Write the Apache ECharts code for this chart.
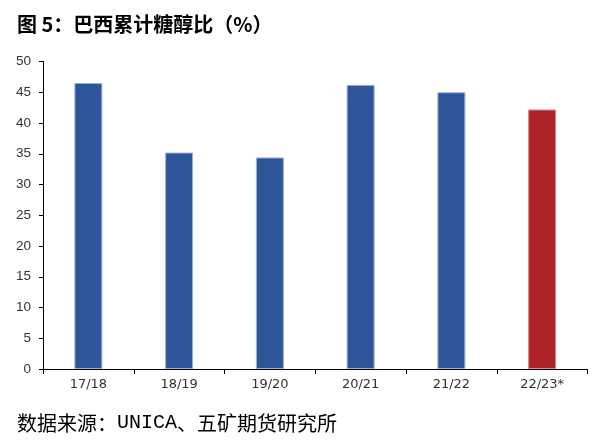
<!DOCTYPE html>
<html>
<head>
<meta charset="utf-8">
<script src="https://cdn.jsdelivr.net/npm/echarts@6/dist/echarts.min.js"></script>
<style>
html,body{margin:0;padding:0;background:#fff;}
#main{width:603px;height:448px;}
</style>
</head>
<body>
<div id="main"></div>
<script>
const categories = ['17/18', '18/19', '19/20', '20/21', '21/22', '22/23*'];
const values = [46.5, 35.2, 34.4, 46.2, 45.0, 42.2];
const barColors = ['#2D5597', '#2D5597', '#2D5597', '#2D5597', '#2D5597', '#AF232A'];
const borderColors = ['#9DB3DC', '#9DB3DC', '#9DB3DC', '#9DB3DC', '#9DB3DC', '#E08A8E'];
const yTicks = { min: 0, max: 50, interval: 5 };

const cjk = '"Noto Sans CJK SC", sans-serif';
const chart = echarts.init(document.getElementById('main'), null, { renderer: 'canvas' });
chart.setOption({
  animation: false,
  backgroundColor: '#fff',
  title: [
    {
      text: '图 5：巴西累计糖醇比（%）',
      left: 12, top: 9,
      textStyle: { fontSize: 20, fontWeight: 'bold', color: '#000', fontFamily: cjk }
    },
    {
      text: '{a|数据来源：}{b|UNICA}{a|、五矿期货研究所}',
      left: 12, top: 408,
      textStyle: {
        fontWeight: 'normal',
        rich: {
          a: { fontSize: 20, fontWeight: 'normal', color: '#000', fontFamily: cjk },
          b: { fontSize: 20, fontWeight: 'normal', color: '#000', fontFamily: '"Liberation Mono", "DejaVu Sans Mono", monospace' }
        }
      }
    }
  ],
  grid: { left: 43, right: 15.5, top: 61.5, bottom: 79, containLabel: false },
  xAxis: {
    type: 'category',
    data: categories,
    boundaryGap: true,
    axisLine: { show: true, lineStyle: { color: '#000', width: 1 } },
    axisTick: { show: true, alignWithLabel: false, length: 5, inside: false, lineStyle: { color: '#000' } },
    axisLabel: { color: '#333', fontSize: 13, fontFamily: '"DejaVu Sans", sans-serif', margin: 9 }
  },
  yAxis: {
    type: 'value',
    min: yTicks.min, max: yTicks.max, interval: yTicks.interval,
    axisLine: { show: true, lineStyle: { color: '#000', width: 1 } },
    axisTick: { show: true, length: 4, inside: false, lineStyle: { color: '#000' } },
    splitLine: { show: false },
    axisLabel: { color: '#333', fontSize: 13.5, fontFamily: 'Arial, "Liberation Sans", sans-serif', margin: 12 }
  },
  series: [{
    type: 'bar',
    data: values.map((v, i) => ({
      value: v,
      itemStyle: { color: barColors[i], borderColor: borderColors[i], borderWidth: 1 }
    })),
    barWidth: 28
  }]
});
</script>
</body>
</html>
